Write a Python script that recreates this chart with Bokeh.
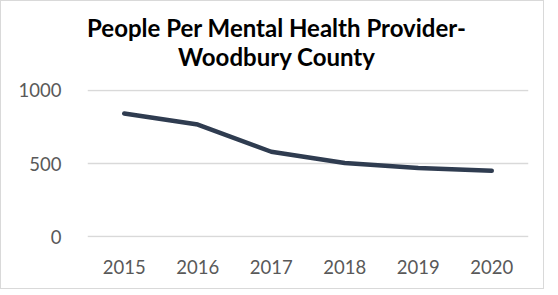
from bokeh.plotting import figure
from bokeh.models import Div, Range1d, FactorRange, FixedTicker
from bokeh.layouts import column
from bokeh.embed import file_html
from bokeh.resources import INLINE

years = ["2015", "2016", "2017", "2018", "2019", "2020"]
people = [840, 765, 580, 503, 470, 450]
y_ticks = [0, 500, 1000]
title_lines = ["People Per Mental Health Provider-", "Woodbury County"]

FONT = "Lato"
W = 542
TITLE_H = 70
PLOT_H = 287 - TITLE_H

title_html = (
    '<div style="display: block; box-sizing: border-box; width: 542px; height: 70px; '
    'font-family: Lato; font-size: 24px; font-weight: bold; color: #000000; '
    'text-align: center; line-height: 29px; padding-top: 12px; padding-left: 9px; '
    'white-space: nowrap;">'
    + "<br>".join(title_lines) + "</div>"
)
title = Div(text=title_html, width=W, height=TITLE_H, margin=0)

p = figure(width=W, height=PLOT_H, output_backend="svg", toolbar_location=None,
           x_range=FactorRange(*years, range_padding=0.0),
           y_range=Range1d(-4, 1004),
           min_border_left=86, min_border_right=15, min_border_top=18,
           min_border_bottom=51, margin=0)
p.title = None

p.line(x=years, y=people, line_color="#2f3c50", line_width=4.5, line_cap="round", line_join="round")

p.outline_line_color = None

p.yaxis.ticker = FixedTicker(ticks=y_ticks)
p.yaxis.axis_line_color = None
p.yaxis.major_tick_line_color = None
p.yaxis.minor_tick_line_color = None
p.yaxis.major_label_text_font = FONT
p.yaxis.major_label_text_font_size = "18.5px"
p.yaxis.major_label_text_color = "#595959"
p.yaxis.major_label_standoff = 20

p.xaxis.axis_line_color = None
p.xaxis.major_tick_line_color = None
p.xaxis.major_label_text_font = FONT
p.xaxis.major_label_text_font_size = "18.5px"
p.xaxis.major_label_text_color = "#595959"
p.xaxis.major_label_standoff = 16

p.xgrid.grid_line_color = None
p.ygrid.grid_line_color = "#d9d9d9"
p.ygrid.grid_line_width = 1.5

layout = column(title, p, spacing=0)
layout.styles = {"border": "1px solid #d9d9d9", "background-color": "white"}

open("out.html", "w").write(file_html(layout, INLINE))
